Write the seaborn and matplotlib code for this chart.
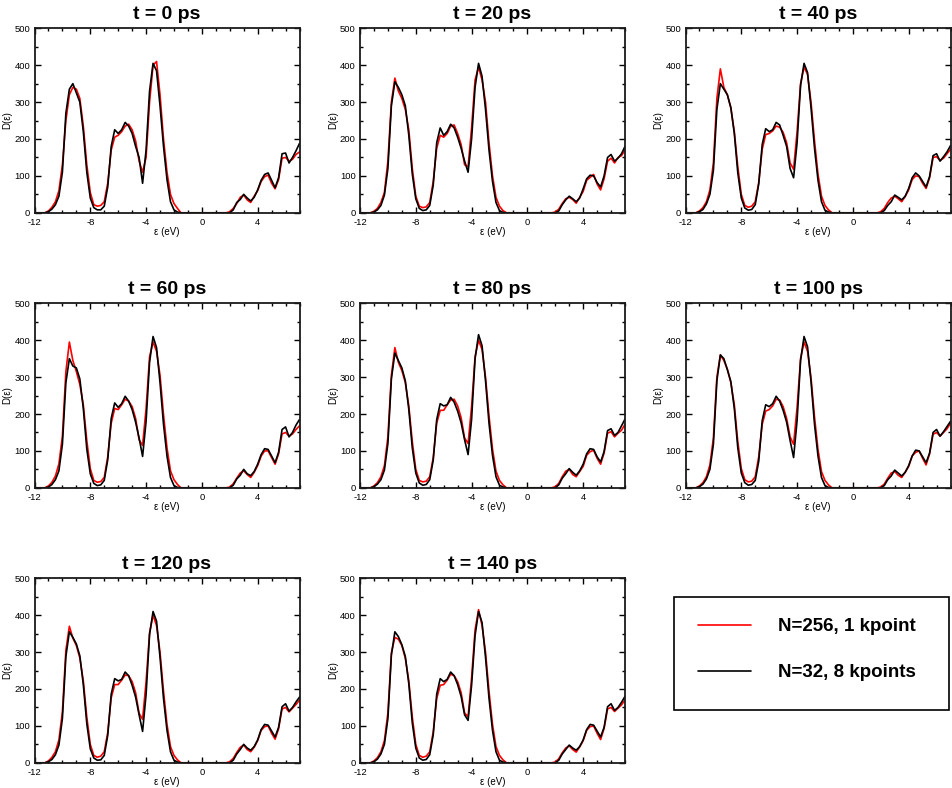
import numpy as np
import pandas as pd
import seaborn as sns
import matplotlib
matplotlib.use("Agg")
import matplotlib.pyplot as plt
from matplotlib.patches import Rectangle
from matplotlib.ticker import MultipleLocator

# ---------------- data ----------------
energy = np.linspace(-12.0, 7.0, 77)   # eV grid, 0.25 eV spacing

titles = ["t = 0 ps", "t = 20 ps", "t = 40 ps", "t = 60 ps",
          "t = 80 ps", "t = 100 ps", "t = 120 ps", "t = 140 ps"]
series_labels = ["N=256, 1 kpoint", "N=32, 8 kpoints"]

red_t0 = [0,0,0,0,5,15,30,60,130,250,320,340,335,310,235,130,55,22,18,20,30,80,170,205,210,220,235,240,225,195,140,110,150,300,400,410,320,200,110,50,25,12,
          0,0,0,0,0,0,0,0,0,0,0,0,0,0,
          3,12,25,42,48,35,28,45,60,85,98,102,80,65,90,148,150,140,145,158,165]
black_t0 = [0,0,0,0,3,10,22,45,110,270,335,350,325,300,220,110,40,14,8,8,18,70,180,225,215,225,245,235,215,180,150,80,170,330,405,385,290,180,90,30,8,2,
            0,0,0,0,0,0,0,0,0,0,0,0,0,0,
            0,8,28,36,50,40,32,42,62,88,104,108,88,68,95,160,162,135,150,168,188]

red_t20 = [0,0,0,0,4,12,28,55,140,300,365,330,310,280,225,120,45,18,14,16,28,85,175,210,205,215,235,238,215,185,130,125,230,360,395,360,300,190,100,42,18,6,
           0,0,0,0,0,0,0,0,0,0,0,0,0,0,
           2,10,25,38,42,36,26,42,58,88,96,104,78,62,92,140,148,135,150,155,170]
black_t20 = [0,0,0,0,2,8,20,48,120,290,355,340,320,290,210,105,38,12,6,8,20,75,190,230,210,220,240,230,205,175,140,110,200,340,405,370,280,170,85,28,6,1,
             0,0,0,0,0,0,0,0,0,0,0,0,0,0,
             0,5,22,35,45,38,30,40,65,92,102,100,82,70,100,150,158,140,148,160,180]

red_t40 = [0,0,0,0,5,14,30,62,135,310,390,340,320,285,220,125,50,20,15,18,30,82,172,212,215,222,235,232,218,190,135,118,220,350,395,375,300,195,105,45,20,8,
           0,0,0,0,0,0,0,0,0,0,0,0,0,0,
           3,12,28,40,45,38,30,44,62,90,100,98,80,66,95,150,152,142,148,160,172]
black_t40 = [0,0,0,0,3,9,24,50,115,280,350,335,320,285,215,108,40,13,7,9,22,78,185,228,220,225,245,238,210,180,120,95,190,345,405,380,285,175,88,30,7,2,
             0,0,0,0,0,0,0,0,0,0,0,0,0,0,
             0,6,20,30,48,42,35,45,66,95,108,100,85,70,98,155,160,140,152,165,182]

red_t60 = [0,0,0,0,5,15,32,65,140,315,395,345,315,280,225,128,52,20,15,17,28,84,175,215,212,225,240,235,220,188,130,115,215,355,395,370,305,198,108,46,22,9,
           0,0,0,0,0,0,0,0,0,0,0,0,0,0,
           2,11,26,40,46,36,28,42,60,86,100,100,82,64,92,146,150,140,146,158,168]
black_t60 = [0,0,0,0,2,9,22,46,118,285,350,330,325,295,215,105,38,12,6,8,20,76,188,230,218,228,248,235,212,178,135,85,180,340,410,380,285,172,86,28,6,1,
             0,0,0,0,0,0,0,0,0,0,0,0,0,0,
             0,7,24,34,50,38,33,44,64,90,106,104,86,68,96,158,165,138,150,170,185]

red_t80 = [0,0,0,0,5,14,30,60,138,305,380,340,318,285,222,125,50,20,16,18,30,82,175,210,210,225,238,240,222,190,135,120,220,355,400,375,300,195,105,45,20,8,
           0,0,0,0,0,0,0,0,0,0,0,0,0,0,
           3,12,30,45,50,36,30,44,58,88,98,102,80,64,94,148,152,138,148,156,172]
black_t80 = [0,0,0,0,3,10,22,48,120,295,365,345,325,290,212,108,40,13,7,9,22,75,185,228,222,225,245,232,208,176,130,90,185,350,415,385,290,175,88,30,7,2,
             0,0,0,0,0,0,0,0,0,0,0,0,0,0,
             0,8,26,38,52,42,34,46,64,92,106,104,84,70,98,155,160,142,150,168,186]

red_t100 = [0,0,0,0,5,14,30,62,135,300,360,345,322,285,225,125,52,22,16,18,30,84,172,208,212,222,240,238,220,188,138,118,218,350,395,370,298,192,104,44,20,8,
            0,0,0,0,0,0,0,0,0,0,0,0,0,0,
            2,10,26,40,44,34,28,42,58,86,96,100,80,62,92,145,150,140,150,160,175]
black_t100 = [0,0,0,0,3,10,24,50,118,290,360,350,320,288,215,108,40,14,7,9,20,72,182,225,220,228,248,235,210,178,128,82,182,345,410,382,288,172,86,28,6,1,
              0,0,0,0,0,0,0,0,0,0,0,0,0,0,
              0,6,22,32,48,40,32,42,60,86,102,100,84,68,94,150,158,140,152,166,180]

red_t120 = [0,0,0,0,5,15,30,62,138,305,370,338,318,284,222,124,50,20,15,18,30,82,176,212,212,224,238,236,220,190,134,118,220,352,400,372,300,194,104,44,20,8,
            0,0,0,0,0,0,0,0,0,0,0,0,0,0,
            3,12,28,42,48,36,30,42,60,88,98,100,80,64,92,146,150,138,148,158,170]
black_t120 = [0,0,0,0,3,9,22,48,120,288,355,340,322,290,212,106,38,13,7,8,20,74,186,228,222,226,246,236,210,178,130,85,185,348,410,384,286,174,88,30,7,2,
              0,0,0,0,0,0,0,0,0,0,0,0,0,0,
              0,7,24,36,50,40,34,44,62,90,104,102,86,70,96,152,160,140,150,165,178]

red_t140 = [0,0,0,0,5,14,30,60,135,298,340,335,318,283,222,124,50,20,15,18,30,84,174,210,212,224,240,236,220,190,135,125,230,360,415,372,300,194,104,44,20,8,
            0,0,0,0,0,0,0,0,0,0,0,0,0,0,
            2,11,27,40,46,36,29,43,60,88,98,100,80,63,93,146,150,139,148,157,170]
black_t140 = [0,0,0,0,3,10,24,50,120,292,355,342,320,288,214,108,40,13,7,9,22,76,186,228,220,226,246,236,212,180,130,115,210,345,410,380,286,175,88,30,7,2,
              0,0,0,0,0,0,0,0,0,0,0,0,0,0,
              0,7,24,36,48,40,34,44,62,90,104,102,86,70,96,152,160,142,150,164,180]

red_series = [red_t0, red_t20, red_t40, red_t60, red_t80, red_t100, red_t120, red_t140]
black_series = [black_t0, black_t20, black_t40, black_t60, black_t80, black_t100, black_t120, black_t140]

x_ticks = [-12, -8, -4, 0, 4]
y_ticks = [0, 100, 200, 300, 400, 500]

# ---------------- style ----------------
sns.set_style("ticks")
plt.rcParams["font.family"] = ["Liberation Sans", "DejaVu Sans"]
plt.rcParams["axes.unicode_minus"] = False
plt.rcParams["text.color"] = "black"
plt.rcParams["axes.labelcolor"] = "black"
plt.rcParams["xtick.color"] = "black"
plt.rcParams["ytick.color"] = "black"

W, H = 952, 788
fig = plt.figure(figsize=(W / 100, H / 100), dpi=100)

col_left = [34.5, 360.0, 685.5]
row_top = [28.3, 303.3, 578.3]
ax_w, ax_h = 265.0, 184.5

def fig_rect(left, top, w, h):
    return [left / W, 1 - (top + h) / H, w / W, h / H]

handles = None
for i, title in enumerate(titles):
    r, c = divmod(i, 3)
    ax = fig.add_axes(fig_rect(col_left[c], row_top[r], ax_w, ax_h))
    df = pd.DataFrame({"energy": energy, "red": red_series[i], "black": black_series[i]})
    sns.lineplot(data=df, x="energy", y="red", color="#ff0000", linewidth=1.2,
                 ax=ax, legend=False, estimator=None)
    sns.lineplot(data=df, x="energy", y="black", color="#000000", linewidth=1.2,
                 ax=ax, legend=False, estimator=None)
    if handles is None:
        handles = list(ax.lines[:2])
    ax.set_xlim(-12, 7)
    ax.set_ylim(0, 500)
    ax.set_xticks(x_ticks)
    ax.set_yticks(y_ticks)
    ax.xaxis.set_minor_locator(MultipleLocator(1))
    ax.yaxis.set_minor_locator(MultipleLocator(50))
    ax.tick_params(which="both", direction="in", top=True, right=True,
                   labelsize=6.8, colors="#000000", width=1.0)
    ax.tick_params(axis="x", which="both", pad=4)
    ax.tick_params(axis="y", which="both", pad=3)
    ax.tick_params(which="major", length=4)
    ax.tick_params(which="minor", length=2)
    for s in ax.spines.values():
        s.set_linewidth(1.3)
        s.set_color("#1a1a1a")
    ax.set_xlabel("ε (eV)", fontsize=7, labelpad=0)
    ax.set_ylabel("D(ε)", fontsize=7, labelpad=1.5)
    ax.set_title(title, fontsize=14, fontweight="bold", pad=7, color="black")

# legend box
fig.patches.append(Rectangle((674 / W, 1 - 710 / H), 275 / W, 113 / H,
                             transform=fig.transFigure, fill=False,
                             edgecolor="black", linewidth=1.2))
fig.legend(handles, series_labels, loc="upper left",
           bbox_to_anchor=(698 / W, 1 - 618 / H), frameon=False,
           borderpad=0, borderaxespad=0, handlelength=2.8, handletextpad=1.45,
           labelspacing=1.55, prop={"family": ["Liberation Sans"], "weight": "bold", "size": 13.5})

fig.savefig("out.png", dpi=100)
